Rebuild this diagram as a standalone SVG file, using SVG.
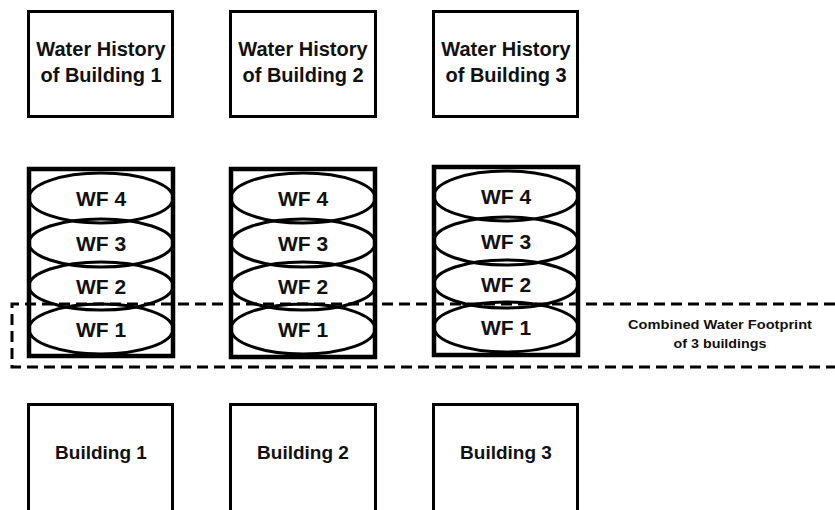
<svg xmlns="http://www.w3.org/2000/svg" width="835" height="510" viewBox="0 0 835 510">
<style>
.box{fill:#fff;stroke:#000;stroke-width:3}
.stack{fill:#fff;stroke:#000;stroke-width:4.5}
.wf{fill:none;stroke:#000;stroke-width:3}
.t{font-family:"Liberation Sans",Arial,sans-serif;font-weight:bold;fill:#111;text-anchor:middle}
.h{font-size:20px}
.w{font-size:21px}
.b{font-size:19px}
.c{font-size:12.5px}
.dash{fill:none;stroke:#000;stroke-width:3;stroke-dasharray:11 6}
</style>
<rect width="835" height="510" fill="#fff"/>
<g id="history1"><rect class="box" x="28.5" y="11.5" width="144" height="105"/><text class="t h" x="101" y="56">Water History</text><text class="t h" x="101" y="82">of Building 1</text></g>
<g id="history2"><rect class="box" x="230.5" y="11.5" width="145" height="105"/><text class="t h" x="303" y="56">Water History</text><text class="t h" x="303" y="82">of Building 2</text></g>
<g id="history3"><rect class="box" x="433.5" y="11.5" width="144" height="105"/><text class="t h" x="506" y="56">Water History</text><text class="t h" x="506" y="82">of Building 3</text></g>

<g id="stack1">
<rect class="stack" x="29" y="169" width="144" height="187"/>
<ellipse class="wf" cx="101" cy="329" rx="72" ry="25"/><text class="t w" x="101" y="337">WF 1</text>
<ellipse class="wf" cx="101" cy="286" rx="72" ry="24"/><text class="t w" x="101" y="294">WF 2</text>
<ellipse class="wf" cx="101" cy="243" rx="72" ry="24"/><text class="t w" x="101" y="251">WF 3</text>
<ellipse class="wf" cx="101" cy="198" rx="72" ry="25"/><text class="t w" x="101" y="206">WF 4</text>
</g>
<g id="stack2">
<rect class="stack" x="231" y="169" width="144" height="188"/>
<ellipse class="wf" cx="303" cy="329" rx="72" ry="25"/><text class="t w" x="303" y="337">WF 1</text>
<ellipse class="wf" cx="303" cy="286" rx="72" ry="24"/><text class="t w" x="303" y="294">WF 2</text>
<ellipse class="wf" cx="303" cy="243" rx="72" ry="24"/><text class="t w" x="303" y="251">WF 3</text>
<ellipse class="wf" cx="303" cy="198" rx="72" ry="25"/><text class="t w" x="303" y="206">WF 4</text>
</g>
<g id="stack3">
<rect class="stack" x="434" y="167" width="144" height="188"/>
<ellipse class="wf" cx="506" cy="327" rx="72" ry="25"/><text class="t w" x="506" y="335">WF 1</text>
<ellipse class="wf" cx="506" cy="284" rx="72" ry="24"/><text class="t w" x="506" y="292">WF 2</text>
<ellipse class="wf" cx="506" cy="241" rx="72" ry="24"/><text class="t w" x="506" y="249">WF 3</text>
<ellipse class="wf" cx="506" cy="196" rx="72" ry="25"/><text class="t w" x="506" y="204">WF 4</text>
</g>

<g id="combined">
<path class="dash" d="M835,304 H12 V367 H835"/>
<text class="t c" x="720" y="329" textLength="184" lengthAdjust="spacingAndGlyphs">Combined Water Footprint</text>
<text class="t c" x="720" y="348" textLength="93" lengthAdjust="spacingAndGlyphs">of 3 buildings</text>
</g>

<g id="building1"><rect class="box" x="28.5" y="404.5" width="144" height="120"/><text class="t b" x="101" y="459">Building 1</text></g>
<g id="building2"><rect class="box" x="230.5" y="404.5" width="145" height="120"/><text class="t b" x="303" y="459">Building 2</text></g>
<g id="building3"><rect class="box" x="433.5" y="404.5" width="144" height="120"/><text class="t b" x="506" y="459">Building 3</text></g>
</svg>
